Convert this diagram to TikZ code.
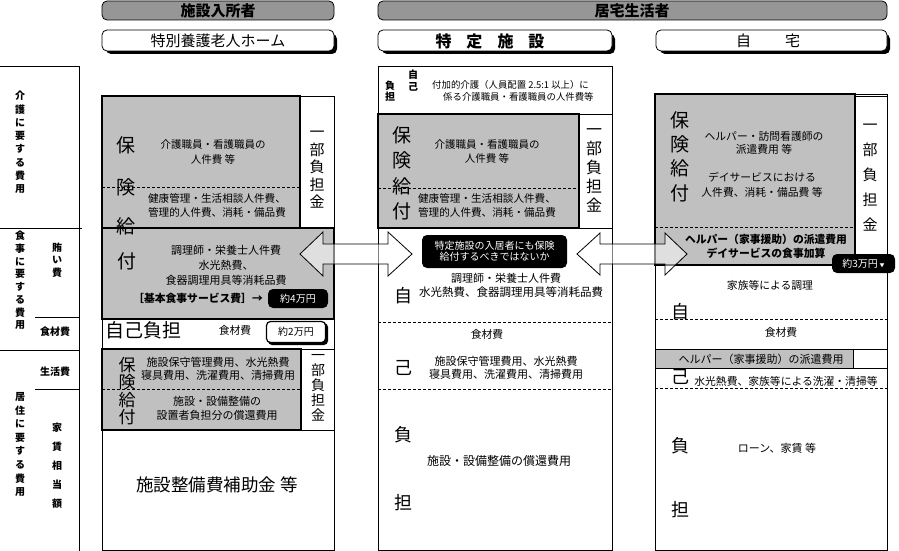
\documentclass[tikz,border=0pt]{standalone}
\usepackage{fontspec}
\setmainfont{Noto Sans CJK JP}
\definecolor{hoken}{RGB}{192,192,192}
\definecolor{midasi}{RGB}{150,150,150}
\tikzset{
  hokenbox/.style={draw, fill=hoken, line width=2.4pt},
  waku/.style={draw, line width=0.8pt},
  kugiri/.style={line width=0.7pt, dash pattern=on 3pt off 2pt},
  bun/.style={align=center, inner sep=0pt, font=\fontsize{10.8}{14.5}\selectfont},
  tate/.style={align=center, inner sep=0pt},
  hidari/.style={align=center, inner sep=0pt, font=\bfseries\fontsize{10}{13.3}\selectfont},
  kuro/.style={fill=black, text=white, rounded corners=5pt, align=center, inner sep=0pt},
  yajirusi/.style={draw, line width=0.8pt, fill=white, fill opacity=0.5},
}
\begin{document}
\begin{tikzpicture}[x=1pt, y=-1pt]
    \useasboundingbox (0,0) rectangle (899,551);

    % 見出し
    \draw[fill=midasi, rounded corners=5pt, line width=0.8pt] (102,1) rectangle (334,20);
    \node[font=\bfseries\fontsize{15}{15}\selectfont] (hdrA) at (218,11) {施設入所者};
    \draw[fill=midasi, rounded corners=5pt, line width=0.8pt] (378,1) rectangle (887,20);
    \node[font=\bfseries\fontsize{15}{15}\selectfont] (hdrB) at (632,11) {居宅生活者};

    % 種別（影付き）
    \fill[rounded corners=5pt] (106,34) rectangle (337,54);
    \draw[fill=white, rounded corners=5pt, line width=0.8pt] (102,30) rectangle (334,51);
    \node[font=\fontsize{15}{15}\selectfont] (subA) at (218,41) {特別養護老人ホーム};
    \fill[rounded corners=5pt] (382,34) rectangle (615,54);
    \draw[fill=white, rounded corners=5pt, line width=0.8pt] (378,30) rectangle (612,51);
    \node[font=\bfseries\fontsize{16}{16}\selectfont] (subB) at (490,41) {特\hspace{15pt}定\hspace{15pt}施\hspace{15pt}設};
    \fill[rounded corners=5pt] (660,34) rectangle (890,54);
    \draw[fill=white, rounded corners=5pt, line width=0.8pt] (656,30) rectangle (887,51);
    \node[font=\fontsize{15}{15}\selectfont] (subC) at (768,41) {自\hspace{34pt}宅};

    % 左：費用の区分
    \draw[waku] (0,66) -- (79,66) -- (79,551);
    \draw[waku] (0,228) -- (82,228);
    \draw[waku] (35,317) -- (79,317);
    \draw[waku] (0,350) -- (79,350);
    \draw[waku] (35,389) -- (79,389);
    \node[hidari] (kaigo) at (20,142.5) {介\\護\\に\\要\\す\\る\\費\\用};
    \node[hidari, font=\bfseries\fontsize{10}{12.7}\selectfont] (syokuji) at (20,280.5) {食\\事\\に\\要\\す\\る\\費\\用};
    \node[hidari, font=\bfseries\fontsize{10}{12.5}\selectfont] (makanai) at (57,260) {賄\\い\\費};
    \node[hidari] (syokuzai) at (55,332) {食材費};
    \node[hidari] (seikatu) at (55,372) {生活費};
    \node[hidari, font=\bfseries\fontsize{10}{13.6}\selectfont] (kyojuu) at (20,444.5) {居\\住\\に\\要\\す\\る\\費\\用};
    \node[hidari, font=\bfseries\fontsize{10}{19}\selectfont] (yatin) at (57,466) {家\\賃\\相\\当\\額};

    % 特別養護老人ホーム
    \draw[waku] (300,96) rectangle (334,228);
    \draw[waku] (102,319) rectangle (334,349);
    \draw[waku] (301,349) rectangle (334,430);
    \draw[waku] (102,430) rectangle (334,550);
    \draw[hokenbox] (102,96) rectangle (300,228);
    \draw[kugiri] (102,187) -- (300,187);
    \draw[hokenbox] (102,228) rectangle (334,319);
    \draw[hokenbox] (102,349) rectangle (301,430);
    \draw[kugiri] (102,389) -- (301,389);

    % 特定施設
    \draw[waku] (378,66) rectangle (612,550);
    \draw[waku] (579,114) rectangle (612,228);
    \draw[hokenbox] (378,114) rectangle (579,228);
    \draw[kugiri] (378,188) -- (579,188);
    \draw[kugiri] (378,322) -- (612,322);
    \draw[kugiri] (378,389) -- (612,389);

    % 自宅
    \draw[waku] (655,94) rectangle (887,550);
    \draw[waku] (855,96) rectangle (887,265);
    \draw[hokenbox] (655,94) rectangle (855,265);
    \draw[kugiri] (655,227) -- (855,227);
    \draw[kugiri] (655,319) -- (887,319);
    \draw[waku, fill=hoken] (655,349) rectangle (853,368);
    \draw[waku] (853,349) rectangle (887,368);
    \draw[kugiri] (655,388) -- (887,388);

    % 矢印
    \coordinate (yaA) at (300,254);
    \coordinate (yaB) at (412,254);
    \coordinate (yaC) at (577,254);
    \coordinate (yaD) at (687,254);
    \draw[yajirusi] (yaA) -- ++(23,-22) -- ++(0,12) -- ++(65,0) -- ++(0,-12)
        -- (yaB) -- ++(-24,22) -- ++(0,-12) -- ++(-65,0) -- ++(0,12) -- cycle;
    \draw[yajirusi] (yaC) -- ++(23,-21) -- ++(0,11) -- ++(65,0) -- ++(0,-11)
        -- (yaD) -- ++(-22,21) -- ++(0,-11) -- ++(-65,0) -- ++(0,11) -- cycle;

    % 特養の文字
    \node[tate, font=\fontsize{19}{19}\selectfont] (ho1) at (126,145) {保};
    \node[tate, font=\fontsize{19}{19}\selectfont] (ken1) at (126,187) {険};
    \node[tate, font=\fontsize{19}{19}\selectfont] (kyu1) at (126,226) {給};
    \node[tate, font=\fontsize{19}{19}\selectfont] (fu1) at (127,261) {付};
    \node[bun, font=\fontsize{10.5}{15}\selectfont] (k1a) at (213,152.5) {介護職員・看護職員の\\人件費 等};
    \node[bun, font=\fontsize{10.6}{14}\selectfont] (k1b) at (217,205) {健康管理・生活相談人件費、\\管理的人件費、消耗・備品費};
    \node[tate, font=\fontsize{15}{17.5}\selectfont] (ichi1) at (317,170) {一\\部\\負\\担\\金};
    \node[bun, font=\fontsize{11}{15}\selectfont] (k1c) at (226,265) {調理師・栄養士人件費\\水光熱費、\\食器調理用具等消耗品費};
    \node[bun, font=\bfseries\fontsize{10.8}{11}\selectfont] (kihon) at (198,298) {［基本食事サービス費］→};
    \node[kuro, minimum width=60pt, minimum height=19pt, font=\fontsize{10}{10}\selectfont] (yon) at (298,298.5) {約4万円};
    \node[tate, font=\fontsize{19}{19}\selectfont] (jiko1) at (143.5,330) {自己負担};
    \node[bun] (k1d) at (235,330) {食材費};
    \fill[rounded corners=4pt] (268,323) rectangle (328,345);
    \node[draw, fill=white, line width=1.2pt, rounded corners=4pt, minimum width=59pt, minimum height=21pt,
        inner sep=0pt, font=\fontsize{10}{10}\selectfont] (ni) at (296,332) {約2万円};
    \node[tate, font=\fontsize{17}{17.5}\selectfont] (hoken1b) at (127,391) {保\\険\\給\\付};
    \node[bun, font=\fontsize{11}{13}\selectfont] (k1e) at (218,369) {施設保守管理費用、水光熱費\\寝具費用、洗濯費用、清掃費用};
    \node[bun, font=\fontsize{11}{13.5}\selectfont] (k1f) at (217,408.5) {施設・設備整備の\\設置者負担分の償還費用};
    \node[tate, font=\fontsize{14}{15}\selectfont] (ichi1b) at (318,388) {一\\部\\負\\担\\金};
    \node[tate, font=\fontsize{17.5}{18}\selectfont] (hojo) at (217,485) {施設整備費補助金 等};

    % 特定施設の文字
    \node[tate, font=\bfseries\fontsize{10}{12}\selectfont] (jiko2) at (413,81) {自\\己};
    \node[tate, font=\bfseries\fontsize{10}{11}\selectfont] (futan2) at (390,91) {負\\担};
    \node[bun, anchor=west, font=\fontsize{9.4}{10}\selectfont] (fuka1) at (432,85) {付加的介護（人員配置 2.5:1 以上）に};
    \node[bun, anchor=west, font=\fontsize{9.4}{10}\selectfont] (fuka2) at (443,97) {係る介護職員・看護職員の人件費等};
    \node[tate, font=\fontsize{19}{25.5}\selectfont] (hoken2) at (402,173.5) {保\\険\\給\\付};
    \node[bun, font=\fontsize{10.5}{14}\selectfont] (k2a) at (487,152) {介護職員・看護職員の\\人件費 等};
    \node[bun, font=\fontsize{10.6}{14}\selectfont] (k2b) at (487,205) {健康管理・生活相談人件費、\\管理的人件費、消耗・備品費};
    \node[tate, font=\fontsize{16}{19}\selectfont] (ichi2) at (594,170.5) {一\\部\\負\\担\\金};
    \node[kuro, minimum width=145pt, minimum height=33pt, font=\fontsize{10}{11}\selectfont] (toi) at (494.5,251.5)
        {特定施設の入居者にも保険\\給付するべきではないか};
    \node[bun, font=\fontsize{11}{11}\selectfont] (k2c) at (506,278) {調理師・栄養士人件費};
    \node[bun, font=\fontsize{11.5}{11}\selectfont] (k2d) at (511,292) {水光熱費、食器調理用具等消耗品費};
    \node[bun] (k2e) at (487,334) {食材費};
    \node[bun, font=\fontsize{11}{13}\selectfont] (k2f) at (506,367.5) {施設保守管理費用、水光熱費\\寝具費用、洗濯費用、清掃費用};
    \node[bun, font=\fontsize{12}{12}\selectfont] (k2g) at (499,461) {施設・設備整備の償還費用};
    \node[tate, font=\fontsize{18}{18}\selectfont] (ji2) at (403,296) {自};
    \node[tate, font=\fontsize{18}{18}\selectfont] (ki2) at (403,368) {己};
    \node[tate, font=\fontsize{18}{18}\selectfont] (fu2) at (403,435) {負};
    \node[tate, font=\fontsize{18}{18}\selectfont] (tan2) at (403,503) {担};

    % 自宅の文字
    \node[tate, font=\fontsize{19}{24.3}\selectfont] (hoken3) at (680,156.5) {保\\険\\給\\付};
    \node[bun, font=\fontsize{10.8}{13}\selectfont] (k3a) at (764,142.5) {ヘルパー・訪問看護師の\\派遣費用 等};
    \node[bun, font=\fontsize{10.8}{15}\selectfont] (k3b) at (762,184.5) {デイサービスにおける\\人件費、消耗・備品費 等};
    \node[tate, font=\fontsize{15}{25}\selectfont] (ichi3) at (870,178) {一\\部\\負\\担\\金};
    \node[bun, font=\bfseries\fontsize{10.8}{14}\selectfont] (k3c) at (766,246) {ヘルパー（家事援助）の派遣費用\\デイサービスの食事加算};
    \node[kuro, minimum width=63pt, minimum height=19pt, font=\fontsize{10}{10}\selectfont] (san) at (863.5,263.5) {約3万円\,\tiny▼};
    \node[bun] (k3d) at (770,285) {家族等による調理};
    \node[bun] (k3e) at (781,332) {食材費};
    \node[bun, font=\fontsize{11}{11}\selectfont] (k3f) at (761,359) {ヘルパー（家事援助）の派遣費用};
    \node[bun] (k3g) at (786,381) {水光熱費、家族等による洗濯・清掃等};
    \node[bun, font=\fontsize{11}{11}\selectfont] (k3h) at (777,448) {ローン、家賃 等};
    \node[tate, font=\fontsize{18}{18}\selectfont] (ji3) at (680,312) {自};
    \node[tate, font=\fontsize{18}{18}\selectfont] (ki3) at (680,377) {己};
    \node[tate, font=\fontsize{18}{18}\selectfont] (fu3) at (680,446) {負};
    \node[tate, font=\fontsize{18}{18}\selectfont] (tan3) at (680,510) {担};
\end{tikzpicture}
\end{document}
